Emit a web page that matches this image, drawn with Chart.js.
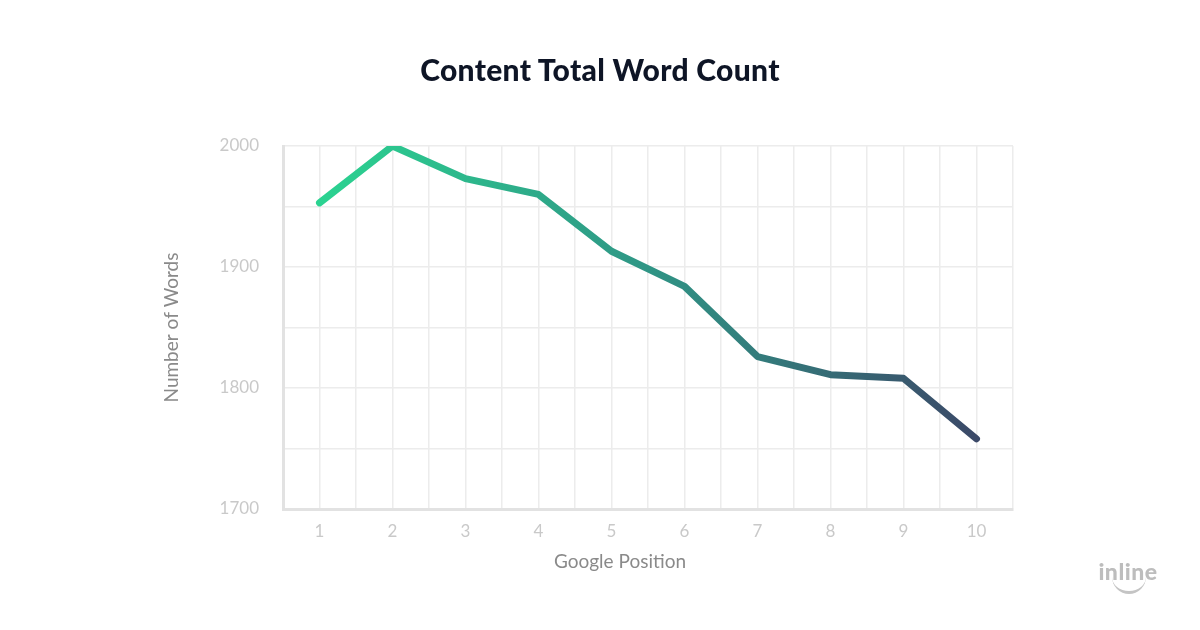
<!DOCTYPE html>
<html>
<head>
<meta charset="utf-8">
<script src="https://cdn.jsdelivr.net/npm/chart.js@4"></script>
<style>
  html, body { margin: 0; padding: 0; background: #ffffff; }
  #wrap { position: relative; width: 1200px; height: 630px; }
  #title { position: absolute; left: 0; top: 51px; width: 1200px; text-align: center;
    font-family: "Lato", "Inter", sans-serif; font-weight: 900; font-size: 30px; color: #0e1526; letter-spacing: 0.3px; }
  #xtitle { position: absolute; left: 520px; top: 549px; width: 200px; text-align: center;
    font-family: "Lato", sans-serif; font-size: 19px; color: #8a8a8a; }
  #logo { position: absolute; left: 1094px; top: 559px; width: 68px; text-align: center;
    font-family: "Lato", sans-serif; font-weight: 900; font-size: 23px; color: #bdbdbd; line-height: 24px; letter-spacing: 0.5px; }
  #smile { position: absolute; left: 1112px; top: 577px; width: 34px; height: 14px;
    border-bottom: 3px solid #c4c4c4; border-radius: 0 0 20px 20px; }
</style>
</head>
<body>
<div id="wrap">
  <canvas id="c" width="1200" height="630"></canvas>
  <div id="title">Content Total Word Count</div>
  <div id="xtitle"></div>
  <div id="smile"></div>
  <div id="logo">inline</div>
</div>
<script>
const positions = [1, 2, 3, 4, 5, 6, 7, 8, 9, 10];
const wordCounts = [1953, 2000, 1973, 1960, 1913, 1884, 1826, 1811, 1808, 1758];
const yTickLabels = [1700, 1800, 1900, 2000];
const xAxisTitle = "Google Position";
const yAxisTitle = "Number of Words";

document.getElementById('xtitle').textContent = xAxisTitle;

const points = positions.map((p, i) => ({ x: p, y: wordCounts[i] }));

function lineGradient(ctx) {
  const chart = ctx.chart;
  const area = chart.chartArea;
  if (!area) return '#2ecf8f';
  const xs = chart.scales.x;
  const g = chart.ctx.createLinearGradient(xs.getPixelForValue(1), 0, xs.getPixelForValue(10), 0);
  g.addColorStop(0, '#2bd391');
  g.addColorStop(0.5, '#2f9585');
  g.addColorStop(1, '#3b4968');
  return g;
}

new Chart(document.getElementById('c'), {
  type: 'line',
  data: {
    datasets: [{
      data: points,
      borderColor: lineGradient,
      borderWidth: 7,
      borderCapStyle: 'round',
      borderJoinStyle: 'round',
      pointRadius: 0,
      pointHoverRadius: 0,
      tension: 0,
      fill: false
    }]
  },
  options: {
    responsive: false,
    animation: false,
    layout: { padding: { left: 160, right: 187, top: 146, bottom: 50 } },
    plugins: { legend: { display: false }, tooltip: { enabled: false }, title: { display: false } },
    scales: {
      x: {
        type: 'linear',
        min: 0.5,
        max: 10.5,
        afterBuildTicks: (s) => { const t = []; for (let v = 0.5; v <= 10.5001; v += 0.5) t.push({ value: v }); s.ticks = t; },
        afterFit: (s) => { s.height = 71; },
        grid: { color: '#ececec', lineWidth: 1.5, drawTicks: false },
        border: { color: '#e2e2e2', width: 3 },
        ticks: {
          padding: 12,
          color: '#c9c9c9',
          font: { family: 'Lato', size: 17 },
          autoSkip: false,
          maxRotation: 0,
          callback: (v) => positions.includes(v) ? String(v) : ''
        },
        title: { display: false }
      },
      y: {
        min: 1700,
        max: 2000,
        afterBuildTicks: (s) => { const t = []; for (let v = 1700; v <= 2000; v += 50) t.push({ value: v }); s.ticks = t; },
        afterFit: (s) => { s.width = 123; },
        grid: { color: '#ececec', lineWidth: 1.5, drawTicks: false },
        border: { color: '#e2e2e2', width: 3 },
        ticks: {
          padding: 24,
          color: '#c9c9c9',
          font: { family: 'Lato', size: 17 },
          callback: (v) => yTickLabels.includes(v) ? String(v) : ''
        },
        title: { display: true, text: yAxisTitle, color: '#8a8a8a', font: { family: 'Lato', size: 19 }, padding: 0 }
      }
    }
  }
});
</script>
</body>
</html>
